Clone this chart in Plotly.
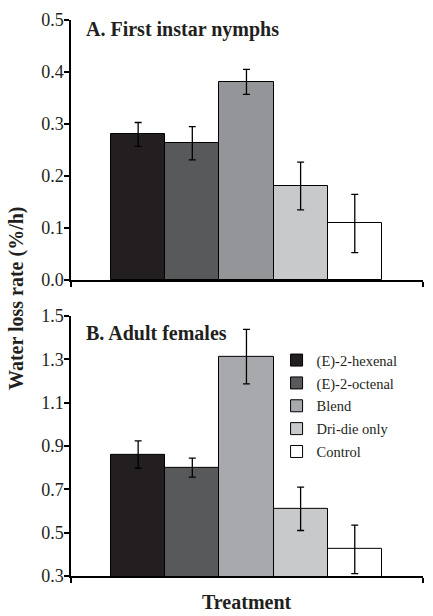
import plotly.graph_objects as go

treatments = ["(E)-2-hexenal", "(E)-2-octenal", "Blend", "Dri-die only", "Control"]
nymph_rate = [0.28, 0.263, 0.381, 0.181, 0.109]
nymph_err = [0.023, 0.032, 0.024, 0.046, 0.056]
female_rate = [0.86, 0.80, 1.312, 0.61, 0.423]
female_err = [0.063, 0.044, 0.126, 0.10, 0.112]
colors_a = ["#231f20", "#58595b", "#939598", "#c8c9cb", "#ffffff"]
colors_b = ["#231f20", "#58595b", "#a7a9ac", "#c8c9cb", "#ffffff"]
yticks_a = [0.0, 0.1, 0.2, 0.3, 0.4, 0.5]
yticks_b = [0.3, 0.5, 0.7, 0.9, 1.1, 1.3, 1.5]

FONT = "Liberation Serif"
XR = [-1.24, 5.26]

fig = go.Figure()
for i, name in enumerate(treatments):
    fig.add_trace(go.Bar(
        x=[i], y=[nymph_rate[i]], width=1, name=name, showlegend=False,
        marker=dict(color=colors_a[i], line=dict(color="black", width=1)),
        error_y=dict(type="data", array=[nymph_err[i]], color="black", thickness=1.3, width=3.5),
        xaxis="x", yaxis="y"))
for i, name in enumerate(treatments):
    fig.add_trace(go.Bar(
        x=[i], y=[female_rate[i]], width=1, name=name, showlegend=True, legendgroup=name,
        marker=dict(color=colors_b[i], line=dict(color="black", width=1)),
        error_y=dict(type="data", array=[female_err[i]], color="black", thickness=1.3, width=3.5),
        xaxis="x2", yaxis="y2"))

axis_common = dict(showline=True, linecolor="black", linewidth=1.5, showgrid=False, zeroline=False,
                   ticks="outside", ticklen=5, tickwidth=1.5, tickcolor="black",
                   tickfont=dict(family=FONT, size=18, color="#231f20"))

fig.update_layout(
    width=433, height=616,
    margin=dict(l=71, r=10, t=16, b=40),
    paper_bgcolor="white", plot_bgcolor="white",
    barmode="overlay", bargap=0,
    font=dict(family=FONT, color="#231f20"),
    xaxis=dict(**axis_common, range=XR, tickvals=XR, showticklabels=False, anchor="y", domain=[0, 1]),
    yaxis=dict(**axis_common, range=[0, 0.5], tickvals=yticks_a, tickformat=".1f", domain=[0.5321, 1],
               anchor="x", ticklabelstandoff=-3),
    xaxis2=dict(**axis_common, range=XR, tickvals=XR, showticklabels=False, anchor="y2", domain=[0, 1]),
    yaxis2=dict(**axis_common, range=[0.3, 1.5], tickvals=yticks_b, tickformat=".1f", domain=[0, 0.4679],
                anchor="x2", ticklabelstandoff=-3),
    legend=dict(x=0.584, y=0.417, xanchor="left", yanchor="top", bgcolor="rgba(0,0,0,0)",
                font=dict(family=FONT, size=14.5, color="#231f20"), tracegroupgap=1,
                itemwidth=30),
    showlegend=True,
)

fig.add_annotation(text="<b>A. First instar nymphs</b>", xref="paper", yref="paper",
                   x=(84 - 71) / 352, y=(576 - 26) / 560, xanchor="left", yanchor="middle",
                   showarrow=False, font=dict(family=FONT, size=20, color="#231f20"))
fig.add_annotation(text="<b>B. Adult females</b>", xref="paper", yref="paper",
                   x=(84 - 71) / 352, y=(576 - 331) / 560, xanchor="left", yanchor="middle",
                   showarrow=False, font=dict(family=FONT, size=20, color="#231f20"))
fig.add_annotation(text="<b>Water loss rate (%/h)</b>", xref="paper", yref="paper",
                   x=(16 - 71) / 352, y=(576 - 296) / 560, xanchor="center", yanchor="middle",
                   textangle=-90, showarrow=False, font=dict(family=FONT, size=20, color="#231f20"))
fig.add_annotation(text="<b>Treatment</b>", xref="paper", yref="paper",
                   x=0.5, y=(576 - 602) / 560, xanchor="center", yanchor="middle",
                   showarrow=False, font=dict(family=FONT, size=20, color="#231f20"))

fig.write_html("out.html", config={"displayModeBar": False},
               post_script="document.body.style.margin='0';document.body.style.overflow='hidden';")
